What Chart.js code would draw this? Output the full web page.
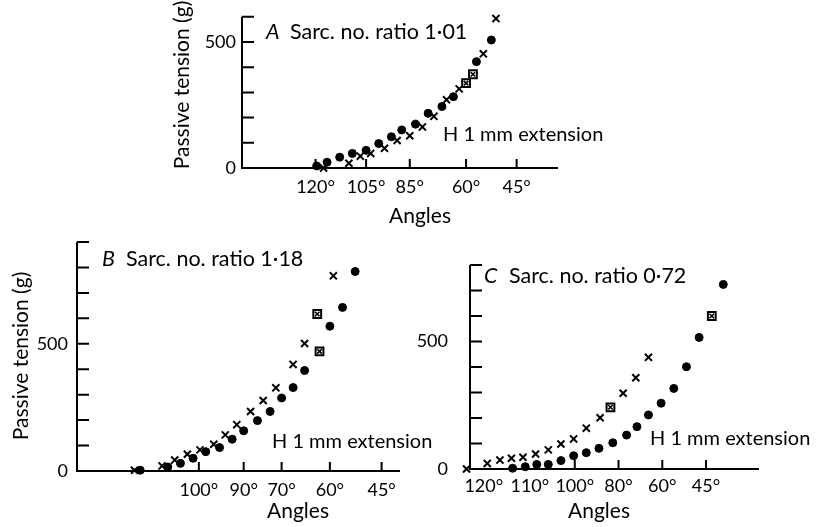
<!DOCTYPE html>
<html>
<head>
<meta charset="utf-8">
<script src="https://cdn.jsdelivr.net/npm/chart.js@4.4.1/dist/chart.umd.min.js"></script>
<style>
  body { margin: 0; background: #fff; }
  #wrap { position: relative; width: 825px; height: 527px; }
  canvas { position: absolute; left: 0; top: 0; }
</style>
</head>
<body>
<div id="wrap">
  <canvas id="chartA" width="825" height="527"></canvas>
  <canvas id="chartB" width="825" height="527"></canvas>
  <canvas id="chartC" width="825" height="527"></canvas>
</div>
<script>
// x values are extension in mm from the origin of each axis, y values are passive tension (g)

// Panel A
const aDotX = [6.5, 7.4, 8.5, 9.6, 10.8, 11.9, 13.0, 13.9, 15.1, 16.2, 17.4, 18.4, 20.4, 21.7];
const aDotY = [8, 23, 43, 58, 70, 97, 124, 151, 174, 217, 244, 283, 422, 508];
const aCrossX = [7.1, 9.3, 10.3, 11.2, 12.4, 13.5, 14.6, 15.7, 16.7, 17.8, 18.9, 21.0, 22.1];
const aCrossY = [0, 19, 47, 58, 78, 109, 128, 163, 205, 271, 314, 453, 593];
const aBoxX = [19.5, 20.1];
const aBoxY = [337, 372];
const aAngleX = [6.4, 10.8, 14.6, 19.5, 23.9];
const aAngleLabels = ["120°", "105°", "85°", "60°", "45°"];
const aAngleMarks = [true, true, true, true, true];

// Panel B
const bDotX = [5.5, 7.9, 9.0, 10.1, 11.2, 12.4, 13.5, 14.5, 15.7, 16.8, 17.8, 18.8, 19.8, 22.0, 23.1, 24.2];
const bDotY = [3, 16, 30, 50, 76, 92, 125, 158, 198, 234, 287, 328, 395, 569, 643, 784];
const bCrossX = [5.0, 7.4, 8.5, 9.6, 10.7, 11.9, 12.9, 13.9, 15.1, 16.2, 17.3, 18.8, 19.8, 22.3];
const bCrossY = [3, 20, 43, 66, 83, 105, 142, 182, 234, 277, 327, 419, 501, 767];
const bBoxX = [20.9, 21.1];
const bBoxY = [617, 470];
const bAngleX = [10.6, 14.5, 17.8, 22.0, 26.5];
const bAngleLabels = ["100°", "90°", "70°", "60°", "45°"];
const bAngleMarks = [true, true, true, true, true];

// Panel C
const cDotX = [3.7, 4.8, 5.8, 6.8, 7.9, 9.0, 10.1, 11.2, 12.4, 13.6, 14.5, 15.5, 16.6, 17.7, 18.8, 19.9, 22.0];
const cDotY = [3, 9, 18, 18, 33, 52, 64, 81, 103, 133, 166, 212, 258, 316, 401, 516, 724];
const cCrossX = [-0.3, 1.5, 2.6, 3.6, 4.6, 5.7, 6.8, 7.9, 9.0, 10.1, 11.3, 13.3, 14.4, 15.5];
const cCrossY = [0, 22, 35, 42, 46, 59, 75, 98, 118, 160, 201, 297, 358, 438];
const cBoxX = [12.2, 21.0];
const cBoxY = [242, 600];
const cAngleX = [1.2, 5.2, 9.1, 12.9, 16.7, 20.5];
const cAngleLabels = ["120°", "110°", "100°", "80°", "60°", "45°"];
const cAngleMarks = [false, false, true, true, true, true];

const FONT = "Lato, 'Open Sans', sans-serif";
const Y_BOX = 70;  // room kept for the y tick labels
const X_BOX = 34;  // room kept for the x tick labels

function pts(xs, ys) {
  return xs.map((x, i) => ({ x: x, y: ys[i] }));
}

// axes lines, inward ticks and the free text
const axesPlugin = {
  id: "axes",
  beforeDatasetsDraw(chart, args, opts) {
    const ctx = chart.ctx;
    const xs = chart.scales.x, ys = chart.scales.y;
    const x0 = xs.getPixelForValue(xs.min), x1 = xs.getPixelForValue(xs.max);
    const y0 = ys.getPixelForValue(0), y1 = ys.getPixelForValue(ys.max);
    ctx.save();
    ctx.strokeStyle = "#000";
    ctx.lineWidth = 2;
    ctx.beginPath();
    ctx.moveTo(x0, y1);
    ctx.lineTo(x0, y0);
    ctx.lineTo(x1, y0);
    for (let v = 100; v <= ys.max; v += 100) {
      const py = ys.getPixelForValue(v);
      ctx.moveTo(x0, py);
      ctx.lineTo(x0 + 12, py);
    }
    opts.marks.forEach((m, i) => {
      if (!m) return;
      const px = xs.getPixelForValue(opts.ticks[i]);
      ctx.moveTo(px, y0);
      ctx.lineTo(px, y0 - 9);
    });
    ctx.stroke();
    ctx.restore();
  },
  afterDraw(chart, args, opts) {
    const ctx = chart.ctx;
    ctx.save();
    ctx.fillStyle = "#000";
    ctx.textBaseline = "middle";
    opts.texts.forEach((t) => {
      ctx.save();
      ctx.font = (t.italic ? "italic " : "") + t.size + "px " + FONT;
      ctx.textAlign = t.align || "left";
      ctx.translate(t.x, t.y);
      if (t.rot) ctx.rotate(-Math.PI / 2);
      ctx.fillText(t.text, 0, 0);
      ctx.restore();
    });
    ctx.restore();
  },
};

function makePanel(id, p) {
  new Chart(document.getElementById(id), {
    type: "scatter",
    data: {
      datasets: [
        {
          data: pts(p.dotX, p.dotY),
          pointStyle: "circle",
          pointRadius: 4,
          backgroundColor: "#000",
          borderColor: "#000",
          clip: false,
        },
        {
          data: pts(p.crossX, p.crossY),
          pointStyle: "crossRot",
          pointRadius: 5,
          borderWidth: 2,
          borderColor: "#000",
          clip: false,
        },
        // boxed points: a square outline with a small cross inside
        {
          data: pts(p.boxX, p.boxY),
          pointStyle: "rect",
          pointRadius: 5.5,
          borderWidth: 2,
          borderColor: "#000",
          backgroundColor: "rgba(0,0,0,0)",
          clip: false,
        },
        {
          data: pts(p.boxX, p.boxY),
          pointStyle: "crossRot",
          pointRadius: 3.2,
          borderWidth: 1.6,
          borderColor: "#000",
          clip: false,
        },
      ],
    },
    options: {
      responsive: false,
      animation: false,
      events: [],
      layout: {
        padding: {
          left: p.area.left - Y_BOX,
          top: p.area.top,
          right: 825 - p.area.right,
          bottom: 527 - p.area.bottom - X_BOX,
        },
      },
      scales: {
        x: {
          type: "linear",
          min: p.xMin,
          max: p.xMax,
          grid: { display: false, drawTicks: false },
          border: { display: false },
          afterFit: (s) => { s.height = X_BOX; },
          afterBuildTicks: (s) => { s.ticks = p.angleX.map((v) => ({ value: v })); },
          ticks: {
            padding: p.xPad,
            color: "#000",
            font: { family: FONT, size: 18 },
            maxRotation: 0,
            autoSkip: false,
            callback: (v, i) => p.angleLabels[i],
          },
        },
        y: {
          type: "linear",
          min: 0,
          max: p.yMax,
          grid: { display: false, drawTicks: false },
          border: { display: false },
          afterFit: (s) => { s.width = Y_BOX; },
          afterBuildTicks: (s) => { s.ticks = [{ value: 0 }, { value: 500 }]; },
          ticks: {
            padding: p.yPad,
            color: "#000",
            font: { family: FONT, size: 18 },
            callback: (v) => String(v),
          },
        },
      },
      plugins: {
        legend: { display: false },
        tooltip: { enabled: false },
        axes: { ticks: p.angleX, marks: p.angleMarks, texts: p.texts },
      },
    },
    plugins: [axesPlugin],
  });
}

makePanel("chartA", {
  dotX: aDotX, dotY: aDotY, crossX: aCrossX, crossY: aCrossY, boxX: aBoxX, boxY: aBoxY,
  angleX: aAngleX, angleLabels: aAngleLabels, angleMarks: aAngleMarks,
  xMin: 0, xMax: 27.5, yMax: 600,
  area: { left: 242, top: 14, right: 558, bottom: 168 },
  xPad: 8, yPad: 6,
  texts: [
    { text: "A", x: 266, y: 32, size: 21.5, italic: true },
    { text: "Sarc. no. ratio 1·01", x: 290, y: 32, size: 21.5 },
    { text: "H 1 mm extension", x: 443, y: 135, size: 20 },
    { text: "Passive tension (g)", x: 182, y: 85, size: 21, rot: true, align: "center" },
    { text: "Angles", x: 420, y: 216, size: 21, align: "center" },
  ],
});

makePanel("chartB", {
  dotX: bDotX, dotY: bDotY, crossX: bCrossX, crossY: bCrossY, boxX: bBoxX, boxY: bBoxY,
  angleX: bAngleX, angleLabels: bAngleLabels, angleMarks: bAngleMarks,
  xMin: 0, xMax: 28.1, yMax: 900,
  area: { left: 77, top: 242, right: 400, bottom: 471 },
  xPad: 8, yPad: 9,
  texts: [
    { text: "B", x: 102, y: 259, size: 21.5, italic: true },
    { text: "Sarc. no. ratio 1·18", x: 126, y: 259, size: 21.5 },
    { text: "H 1 mm extension", x: 272, y: 442, size: 20 },
    { text: "Passive tension (g)", x: 21, y: 356, size: 21, rot: true, align: "center" },
    { text: "Angles", x: 298, y: 511, size: 21, align: "center" },
  ],
});

makePanel("chartC", {
  dotX: cDotX, dotY: cDotY, crossX: cCrossX, crossY: cCrossY, boxX: cBoxX, boxY: cBoxY,
  angleX: cAngleX, angleLabels: cAngleLabels, angleMarks: cAngleMarks,
  xMin: 0, xMax: 25.1, yMax: 800,
  area: { left: 470, top: 265, right: 759, bottom: 469 },
  xPad: 6, yPad: 22,
  texts: [
    { text: "C", x: 484, y: 276, size: 21.5, italic: true },
    { text: "Sarc. no. ratio 0·72", x: 509, y: 276, size: 21.5 },
    { text: "H 1 mm extension", x: 650, y: 439, size: 20 },
    { text: "Angles", x: 599, y: 511, size: 21, align: "center" },
  ],
});
</script>
</body>
</html>
